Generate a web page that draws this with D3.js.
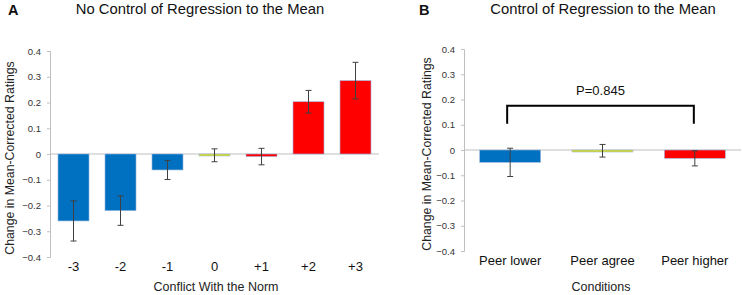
<!DOCTYPE html>
<html lang="en">
<head>
    <meta charset="UTF-8">
    <title>Regression to the Mean</title>
    <script src="https://cdn.jsdelivr.net/npm/d3@7"></script>
    <style>
        body { margin: 0; background: white; }
        text { font-family: "Liberation Sans", Arial, sans-serif; }
        .tick text { font-size: 9.5px; fill: #333; }
    </style>
</head>
<body>

<script>
    // panel A data
    const conflictLevels = ["-3", "-2", "-1", "0", "+1", "+2", "+3"];
    const conflictMeans  = [-0.26, -0.22, -0.062, -0.005, -0.01, 0.203, 0.285];
    const conflictErrors = [0.078, 0.057, 0.037, 0.025, 0.032, 0.044, 0.071];
    const conflictColors = ["#0070C0", "#0070C0", "#0070C0", "#D4DC1A", "#FF0000", "#FF0000", "#FF0000"];

    // panel B data
    const conditions      = ["Peer lower", "Peer agree", "Peer higher"];
    const conditionMeans  = [-0.049, -0.003, -0.033];
    const conditionErrors = [0.056, 0.025, 0.03];
    const conditionColors = ["#0070C0", "#D4DC1A", "#FF0000"];

    const yTicks = [-0.4, -0.3, -0.2, -0.1, 0, 0.1, 0.2, 0.3, 0.4];
    const pLabel = "P=0.845";
    const bracketLevels = [0.175, 0.104];

    const width = 742, height = 295;

    const svg = d3.select("body")
                  .append("svg")
                  .attr("width", width)
                  .attr("height", height);

    function panel(opts) {
        const g = svg.append("g");

        const x = d3.scaleBand()
                    .domain(opts.cats)
                    .range(opts.xRange)
                    .paddingInner(0.34)
                    .paddingOuter(0.17);

        const y = d3.scaleLinear()
                    .domain([-0.4, 0.4])
                    .range(opts.yRange);

        // y axis
        const yAxis = d3.axisLeft(y)
                        .tickValues(yTicks)
                        .tickSize(3)
                        .tickPadding(6)
                        .tickFormat(d => d === 0 ? "0" : d3.format(".1f")(d));
        const ya = g.append("g")
                    .attr("transform", `translate(${opts.xRange[0]},0)`)
                    .call(yAxis);
        ya.selectAll("path, line").attr("stroke", "#bfbfbf");

        // zero line
        g.append("line")
         .attr("x1", opts.xRange[0]).attr("x2", opts.xRange[1])
         .attr("y1", y(0)).attr("y2", y(0))
         .attr("stroke", "#bfbfbf").attr("stroke-width", 1.2);

        // bars
        g.selectAll("rect.bar")
         .data(opts.means)
         .join("rect").attr("class", "bar")
         .attr("x", (d, i) => x(opts.cats[i]))
         .attr("width", x.bandwidth())
         .attr("y", d => y(Math.max(0, d)))
         .attr("height", d => Math.max(2, Math.abs(y(d) - y(0))))
         .attr("fill", (d, i) => opts.colors[i])
         .attr("stroke", "#9DB9DF")
         .attr("stroke-width", 0.6);

        // error bars
        const eb = g.selectAll("g.err")
                    .data(opts.means)
                    .join("g").attr("class", "err")
                    .attr("stroke", "#404040")
                    .attr("stroke-width", 1);
        eb.append("line")
          .attr("x1", (d, i) => x(opts.cats[i]) + x.bandwidth() / 2)
          .attr("x2", (d, i) => x(opts.cats[i]) + x.bandwidth() / 2)
          .attr("y1", (d, i) => y(d + opts.errs[i]))
          .attr("y2", (d, i) => y(d - opts.errs[i]));
        [1, -1].forEach(s => {
            eb.append("line")
              .attr("x1", (d, i) => x(opts.cats[i]) + x.bandwidth() / 2 - 3)
              .attr("x2", (d, i) => x(opts.cats[i]) + x.bandwidth() / 2 + 3)
              .attr("y1", (d, i) => y(d + s * opts.errs[i]))
              .attr("y2", (d, i) => y(d + s * opts.errs[i]));
        });

        // category labels
        g.selectAll("text.cat")
         .data(opts.cats)
         .join("text").attr("class", "cat")
         .attr("x", d => x(d) + x.bandwidth() / 2)
         .attr("y", opts.yRange[0] + 14)
         .attr("text-anchor", "middle")
         .attr("font-size", 13)
         .attr("fill", "#111")
         .text(d => d);

        // x axis title
        g.append("text")
         .attr("x", opts.xTitleX)
         .attr("y", 291)
         .attr("text-anchor", "middle")
         .attr("font-size", 12.5)
         .attr("fill", "#222")
         .text(opts.xTitle);

        // y axis title
        g.append("text")
         .attr("transform", `translate(${opts.yTitleX},${(opts.yRange[0] + opts.yRange[1]) / 2 + 4}) rotate(-90)`)
         .attr("text-anchor", "middle")
         .attr("font-size", 12.3)
         .attr("fill", "#222")
         .text("Change  in Mean-Corrected Ratings");

        // panel title + letter
        g.append("text")
         .attr("x", opts.titleX).attr("y", 14)
         .attr("text-anchor", "middle")
         .attr("font-size", 14.8)
         .attr("fill", "#111")
         .text(opts.title);
        g.append("text")
         .attr("x", opts.letterX).attr("y", 15)
         .attr("font-size", 14.5)
         .attr("font-weight", "bold")
         .attr("fill", "#111")
         .text(opts.letter);

        return {x, y, g};
    }

    panel({
        cats: conflictLevels, means: conflictMeans, errs: conflictErrors, colors: conflictColors,
        xRange: [50, 379], yRange: [257, 51],
        xTitle: "Conflict With the Norm", xTitleX: 216,
        yTitleX: 14,
        title: "No Control of Regression to the Mean", titleX: 200,
        letter: "A", letterX: 8
    });

    const b = panel({
        cats: conditions, means: conditionMeans, errs: conditionErrors, colors: conditionColors,
        xRange: [464, 741], yRange: [251, 49],
        xTitle: "Conditions", xTitleX: 601,
        yTitleX: 431,
        title: "Control of Regression to the Mean", titleX: 603,
        letter: "B", letterX: 419
    });

    // significance bracket between first and last condition
    const bx0 = b.x(conditions[0]) + b.x.bandwidth() / 2 - 3;
    const bx1 = b.x(conditions[2]) + b.x.bandwidth() / 2 - 1;
    b.g.append("path")
       .attr("d", `M${bx0},${b.y(bracketLevels[1])}V${b.y(bracketLevels[0])}H${bx1}V${b.y(bracketLevels[1])}`)
       .attr("fill", "none")
       .attr("stroke", "#000")
       .attr("stroke-width", 2);
    b.g.append("text")
       .attr("x", (bx0 + bx1) / 2).attr("y", b.y(bracketLevels[0]) - 11)
       .attr("text-anchor", "middle")
       .attr("font-size", 13)
       .attr("fill", "#111")
       .text(pLabel);
</script>

</body>
</html>
